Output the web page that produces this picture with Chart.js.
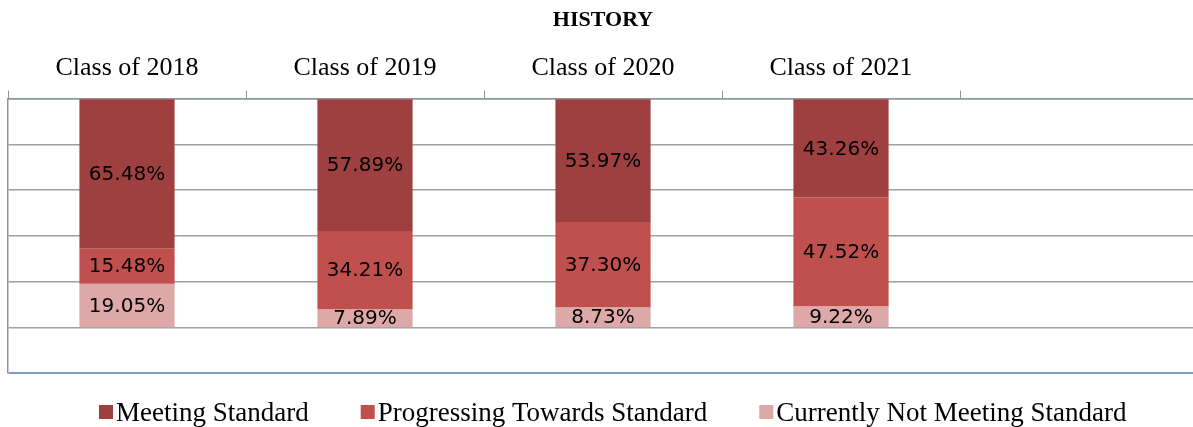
<!DOCTYPE html>
<html>
<head>
<meta charset="utf-8">
<script src="https://cdn.jsdelivr.net/npm/chart.js@4"></script>
<style>
  html, body { margin: 0; padding: 0; background: #fff; overflow: hidden; }
  #wrap { width: 1200px; height: 427px; }
</style>
</head>
<body>
<div id="wrap"><canvas id="c" width="1200" height="427"></canvas></div>
<script>
const categories = ['Class of 2018', 'Class of 2019', 'Class of 2020', 'Class of 2021', ''];
const meetingStandard = [65.48, 57.89, 53.97, 43.26, null];
const progressingTowardsStandard = [15.48, 34.21, 37.30, 47.52, null];
const currentlyNotMeetingStandard = [19.05, 7.89, 8.73, 9.22, null];
const seriesNames = ['Meeting Standard', 'Progressing Towards Standard', 'Currently Not Meeting Standard'];
const yTicks = [0, 20, 40, 60, 80, 100, 120];

const colors = ['#9E403F', '#C0504D', '#DDA8A8'];

const labelPlugin = {
  id: 'segLabels',
  afterDatasetsDraw(chart) {
    const ctx = chart.ctx;
    const y = chart.scales.y;
    const area = chart.chartArea;
    const clipBottom = y.getPixelForValue(100);
    ctx.save();
    ctx.beginPath();
    ctx.rect(area.left, area.top, area.right - area.left, clipBottom - area.top);
    ctx.clip();
    ctx.font = '20px "DejaVu Sans"';
    ctx.fillStyle = '#000';
    ctx.textAlign = 'center';
    ctx.textBaseline = 'middle';
    chart.data.datasets.forEach((ds, di) => {
      const meta = chart.getDatasetMeta(di);
      meta.data.forEach((el, i) => {
        const v = ds.data[i];
        if (v == null) return;
        const cy = (el.y + el.base) / 2;
        ctx.fillText(v.toFixed(2) + '%', el.x, cy + 1);
      });
    });
    ctx.restore();
  }
};

const legendPlugin = {
  id: 'customLegend',
  afterDraw(chart) {
    const ctx = chart.ctx;
    const box = 14, gapText = 3, gapItem = 52;
    ctx.save();
    ctx.font = '27px "Liberation Serif"';
    let x = 99;
    const baseline = 421;
    ctx.textBaseline = 'alphabetic';
    ctx.textAlign = 'left';
    chart.data.datasets.forEach(ds => {
      const w = ctx.measureText(ds.label).width;
      ctx.fillStyle = ds.backgroundColor;
      ctx.fillRect(x, 405, box, box);
      ctx.fillStyle = '#000';
      ctx.fillText(ds.label, x + box + gapText, baseline);
      x += box + gapText + w + gapItem;
    });
    ctx.restore();
  }
};

new Chart(document.getElementById('c'), {
  type: 'bar',
  data: {
    labels: categories,
    datasets: [
      { label: seriesNames[0], data: meetingStandard, backgroundColor: colors[0] },
      { label: seriesNames[1], data: progressingTowardsStandard, backgroundColor: colors[1] },
      { label: seriesNames[2], data: currentlyNotMeetingStandard, backgroundColor: colors[2] }
    ]
  },
  options: {
    responsive: false,
    animation: false,
    devicePixelRatio: 1,
    layout: { padding: { left: 8, right: 2, top: 0, bottom: 54 } },
    datasets: { bar: { barPercentage: 0.4, categoryPercentage: 1.0, borderWidth: 0 } },
    plugins: {
      title: {
        display: true,
        text: 'HISTORY',
        color: '#000',
        font: { family: '"Liberation Serif"', size: 22, weight: 'bold' },
        padding: { top: 7, bottom: 12 }
      },
      legend: { display: false },
      tooltip: { enabled: false }
    },
    scales: {
      x: {
        position: 'top',
        stacked: true,
        offset: true,
        grid: {
          display: true,
          drawOnChartArea: false,
          drawTicks: true,
          tickLength: 8,
          color: '#8C949C',
          offset: true
        },
        border: { display: true, color: '#8C949C', width: 1.5 },
        ticks: {
          color: '#000',
          font: { family: '"Liberation Serif"', size: 26 },
          padding: 7,
          maxRotation: 0,
          autoSkip: false
        }
      },
      y: {
        stacked: true,
        reverse: true,
        min: 0,
        max: 120,
        afterBuildTicks(scale) { scale.ticks = yTicks.map(v => ({ value: v })); },
        grid: {
          drawTicks: false,
          tickLength: 0,
          color: (c) => c.tick && c.tick.value === 120 ? '#7F9DC6' : '#A0A0A0',
          lineWidth: (c) => c.tick && c.tick.value === 120 ? 2 : 1.5
        },
        border: { display: true, color: '#8C949C', width: 1.5 },
        ticks: { display: false }
      }
    }
  },
  plugins: [labelPlugin, legendPlugin]
});
</script>
</body>
</html>
